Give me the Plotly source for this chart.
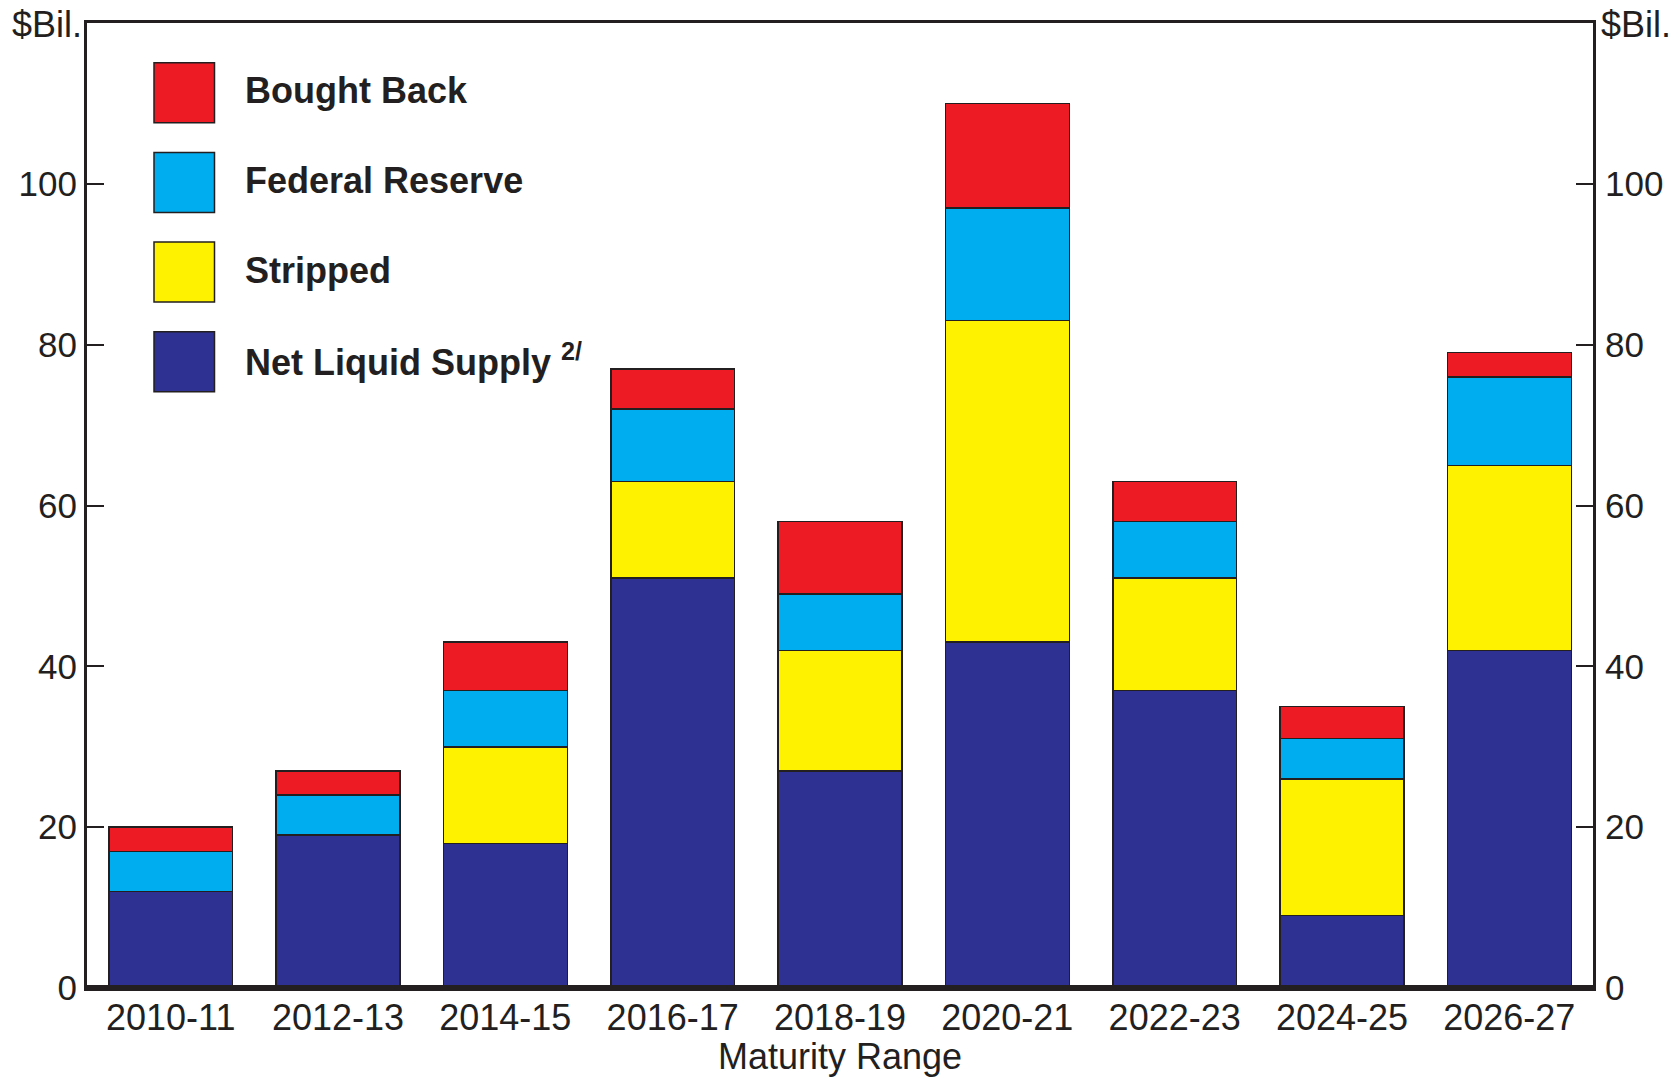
import plotly.graph_objects as go

# Treasury securities by maturity range, $ billions
categories = ["2010-11", "2012-13", "2014-15", "2016-17", "2018-19",
              "2020-21", "2022-23", "2024-25", "2026-27"]
net_liquid_supply = [12, 19, 18, 51, 27, 43, 37, 9, 42]
stripped = [0, 0, 12, 12, 15, 40, 14, 17, 23]
federal_reserve = [5, 5, 7, 9, 7, 14, 7, 5, 11]
bought_back = [3, 3, 6, 5, 9, 13, 5, 4, 3]

y_ticks = [0, 20, 40, 60, 80, 100]

# stacking order bottom -> top
series = [
    ("Net Liquid Supply", net_liquid_supply, "#2E3192"),
    ("Stripped", stripped, "#FFF200"),
    ("Federal Reserve", federal_reserve, "#00AEEF"),
    ("Bought Back", bought_back, "#ED1C24"),
]
legend_labels = {
    "Bought Back": "Bought Back",
    "Federal Reserve": "Federal Reserve",
    "Stripped": "Stripped",
    "Net Liquid Supply": "Net Liquid Supply <sup>2/</sup>",
}

INK = "#231F20"
FONT = "Liberation Sans, Arial, sans-serif"

W, H = 1679, 1078
ML, MR, MT, MB = 87, 86, 23, 90
PW, PH = W - ML - MR, H - MT - MB


def px_x(px):
    return (px - ML) / PW


def px_y(py):
    return (H - MB - py) / PH


fig = go.Figure()
for name, vals, color in series:
    fig.add_trace(go.Bar(
        x=categories, y=vals, name=name,
        marker=dict(color=color, line=dict(color=INK, width=1.5)),
        width=0.74, showlegend=False,
    ))

# invisible companion trace so the right-hand axis is drawn
fig.add_trace(go.Scatter(x=categories, y=[None] * len(categories),
                         yaxis="y2", mode="lines", showlegend=False,
                         hoverinfo="skip"))

# hand-built legend with large swatches, top entry first
shapes = []
annotations = []
for i, (name, _, color) in enumerate(reversed(series)):
    top = 62.7 + i * 89.7
    shapes.append(dict(
        type="rect", xref="paper", yref="paper",
        x0=px_x(154), x1=px_x(214.5), y0=px_y(top), y1=px_y(top + 60),
        fillcolor=color, line=dict(color=INK, width=1.5), layer="above",
    ))
    annotations.append(dict(
        xref="paper", yref="paper", x=px_x(243), y=px_y(top + 28),
        xanchor="left", yanchor="middle", showarrow=False,
        text=f"<b>{legend_labels[name]}</b>",
        font=dict(family=FONT, size=36, color=INK),
    ))

# heavy baseline at zero
shapes.append(dict(type="line", xref="paper", yref="y", x0=0, x1=1,
                   y0=0, y1=0, line=dict(color=INK, width=6), layer="above"))

# unit labels above both value axes
for side_x in (px_x(47), px_x(1636)):
    annotations.append(dict(
        xref="paper", yref="paper", x=side_x, y=px_y(25),
        xanchor="center", yanchor="middle", showarrow=False, text="$Bil.",
        font=dict(family=FONT, size=36, color=INK),
    ))

# category axis title
annotations.append(dict(
    xref="paper", yref="paper", x=0.5, y=px_y(1056),
    xanchor="center", yanchor="middle", showarrow=False, borderpad=0,
    text="Maturity Range", font=dict(family=FONT, size=36, color=INK),
))

axis_common = dict(
    range=[0, 120], tickvals=y_ticks, ticks="inside", ticklen=17,
    tickwidth=1.5, tickcolor=INK, showgrid=False, zeroline=False,
    showline=True, linecolor=INK, linewidth=3, automargin=False,
    tickfont=dict(family=FONT, size=35, color=INK),
)

fig.update_layout(
    width=W, height=H,
    margin=dict(l=ML, r=MR, t=MT, b=MB, autoexpand=False),
    paper_bgcolor="white", plot_bgcolor="white",
    barmode="stack", bargap=0.26,
    font=dict(family=FONT, color=INK),
    xaxis=dict(
        type="category", range=[-0.5, len(categories) - 0.5],
        showline=True, mirror=True, linecolor=INK, linewidth=3,
        ticks="", showgrid=False, automargin=False, ticklabelstandoff=-4,
        tickfont=dict(family=FONT, size=36, color=INK),
    ),
    yaxis=dict(side="left", ticklabelstandoff=0, **axis_common),
    yaxis2=dict(side="right", overlaying="y", ticklabelstandoff=2,
                **axis_common),
    shapes=shapes,
    annotations=annotations,
)

fig.write_html("out.html")
